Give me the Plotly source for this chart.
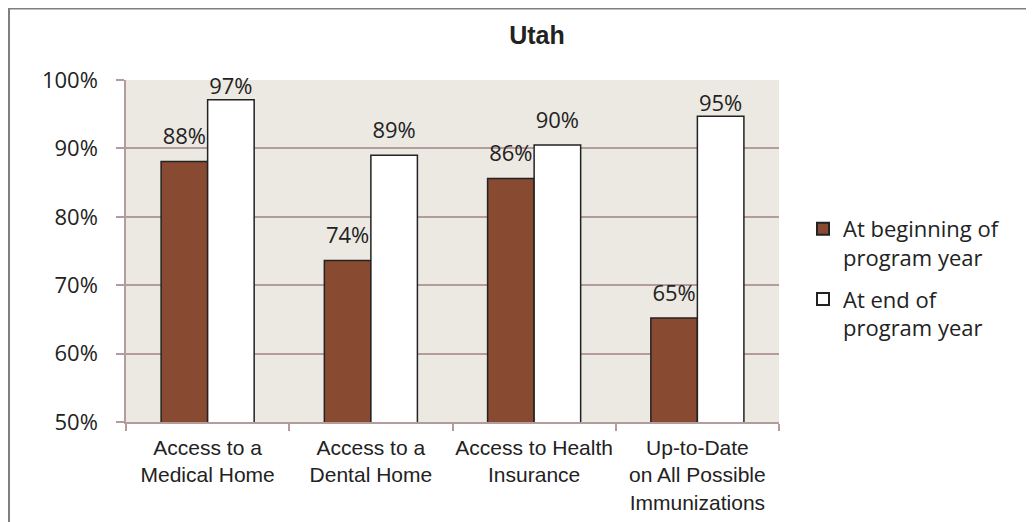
import plotly.graph_objects as go

categories = ["Access to a<br>Medical Home", "Access to a<br>Dental Home",
              "Access to Health<br>Insurance", "Up-to-Date<br>on All Possible<br>Immunizations"]
begin_vals = [88.1, 73.6, 85.6, 65.2]
end_vals = [97.1, 89.0, 90.5, 94.7]
begin_labels = ["88%", "74%", "86%", "65%"]
end_labels = ["97%", "89%", "90%", "95%"]
series_names = ["At beginning of<br>program year", "At end of<br>program year"]
ytick_vals = [50, 60, 70, 80, 90, 100]
ytick_text = ["50%", "60%", "70%", "80%", "90%", "100%"]
# label padding (style): labels near the plot top hug the bar
begin_pad = [17, 17, 17, 17]
end_pad = [0, 17, 17, 0]

# page body has an 8px margin; work in screen coordinates and subtract it
OFF = 8
W, H = 1034 - OFF, 522 - OFF
L, R, T, B = 126 - OFF, 779 - OFF, 80 - OFF, 422 - OFF
pw, ph = R - L, B - T

def px(xs):
    return (xs - OFF - L) / pw

def py(ys):
    return (B - (ys - OFF)) / ph

xpos = list(range(len(categories)))
calib = "Open Sans, Noto Sans, sans-serif"
arial = "Liberation Sans, Arial, sans-serif"
lbl_font = dict(family=calib, size=22, color="#222222")

fig = go.Figure()
fig.add_trace(go.Bar(
    x=xpos, y=begin_vals, name=series_names[0], legendgroup="a", offsetgroup="a",
    marker=dict(color="#894A32", line=dict(color="#222222", width=1.5)),
))
fig.add_trace(go.Bar(
    x=xpos, y=end_vals, name=series_names[1], legendgroup="b", offsetgroup="b",
    marker=dict(color="#FFFFFF", line=dict(color="#222222", width=1.5)),
))
for vals, labels, pad, grp in [(begin_vals, begin_labels, begin_pad, "a"),
                               (end_vals, end_labels, end_pad, "b")]:
    fig.add_trace(go.Scatter(
        x=xpos, y=vals, text=labels, mode="markers+text", textposition="top center",
        textfont=lbl_font, offsetgroup=grp, showlegend=False, hoverinfo="skip",
        marker=dict(size=pad, color="rgba(0,0,0,0)", line=dict(width=0)), cliponaxis=False,
    ))

grid_col = "#B59C9C"
fig.update_layout(
    width=W, height=H,
    margin=dict(l=L, r=W - R, t=T, b=H - B, autoexpand=False),
    paper_bgcolor="white", plot_bgcolor="#ECE9E2",
    barmode="group", bargap=0.43, bargroupgap=0,
    scattermode="group", scattergap=0.43,
    showlegend=True,
    legend=dict(x=px(803), y=py(208), xanchor="left", yanchor="top", valign="top",
                font=dict(family=calib, size=22, color="#222222"),
                tracegroupgap=10, itemsizing="constant", bgcolor="rgba(0,0,0,0)"),
    title=dict(text="<b>Utah</b>", xref="paper", x=px(537), xanchor="center",
               y=1 - (35 - OFF) / H, yanchor="middle",
               font=dict(family=arial, size=25, color="#222222")),
)
fig.update_yaxes(
    range=[50, 100], tickvals=ytick_vals, ticktext=ytick_text,
    showgrid=True, gridcolor=grid_col, gridwidth=1.5,
    showline=True, linecolor=grid_col, linewidth=1.5,
    ticks="outside", ticklen=8, tickcolor=grid_col, tickwidth=1.5,
    ticklabelstandoff=14,
    tickfont=dict(family=calib, size=22, color="#222222"),
    zeroline=False,
)
fig.update_xaxes(
    range=[-0.5, len(categories) - 0.5], tickvals=xpos, ticktext=categories,
    showgrid=False, showline=True, linecolor=grid_col, linewidth=1.5,
    ticks="", zeroline=False, ticklabelstandoff=6,
    tickfont=dict(family=arial, size=21, color="#222222"),
    minor=dict(tick0=-0.5, dtick=1, ticks="outside", ticklen=7, tickcolor=grid_col,
               tickwidth=1.5, showgrid=False),
)
# outer chart frame
fig.add_shape(type="rect", xref="paper", yref="paper",
              x0=px(9), x1=px(1100), y0=py(700), y1=py(8.5),
              line=dict(color="#7F7F7F", width=2), fillcolor="rgba(0,0,0,0)", layer="below")

fig.write_html("out.html")
